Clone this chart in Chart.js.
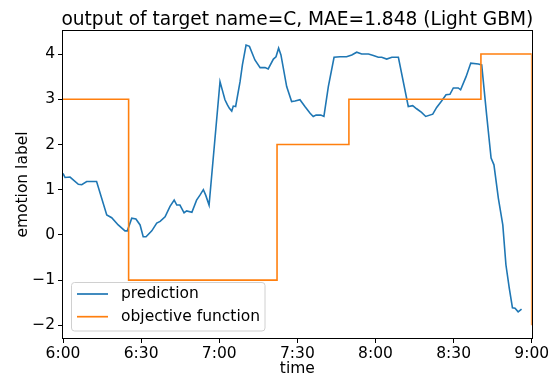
<!DOCTYPE html>
<html>
<head>
<meta charset="utf-8">
<script src="https://cdn.jsdelivr.net/npm/chart.js@4"></script>
<style>
  html, body { margin: 0; padding: 0; background: #fff; }
  #wrap { width: 557px; height: 376px; }
</style>
</head>
<body>
<div id="wrap"><canvas id="chart" width="557" height="376"></canvas></div>
<script>
// minutes after 6:00 and the predicted emotion label
const predMinutes = [0, 0.8, 2.7, 5.9, 7.2, 9.1, 12.9, 16.8, 18.7, 21.2, 23.8, 24.7, 26.4, 28, 29.6, 30.8, 31.9,
  34.1, 36, 37.3, 39.2, 41.1, 42.7, 43.7, 44.9, 46.5, 47.5, 49.5, 51.3, 52.6, 53.9, 54.8, 56.1,
  60.3, 62.2, 63.1, 63.9, 64.8, 65.4, 66.3, 68, 68.9, 70.3, 71.6, 73.7, 75.7, 77.6, 78.8, 80.8, 81.8,
  82.8, 83.7, 85.9, 87.8, 89.1, 91, 92.9, 94.9, 96.1, 97.2, 99, 100.2, 101.9, 104.1, 106.4, 108.9,
  110.9, 112.8, 114.7, 117.3, 119.2, 121.1, 122.4, 124.3, 126.3, 128.8, 132.6, 134.3, 135.8, 137.7,
  139.3, 142, 143.5, 145.4, 147.1, 148.6, 149.9, 151.8, 152.7, 154.8, 156.6, 159.5, 160.8, 162.7,
  164.4, 165.5, 167.2, 168.9, 170.1, 171.4, 172.6, 173.6, 174.8, 176.1];
const predValues = [1.36, 1.27, 1.28, 1.12, 1.11, 1.18, 1.18, 0.44, 0.38, 0.22, 0.09, 0.09, 0.37, 0.35, 0.22, -0.04, -0.04,
  0.09, 0.26, 0.30, 0.40, 0.63, 0.77, 0.66, 0.66, 0.49, 0.53, 0.50, 0.77, 0.88, 1.0, 0.88, 0.66,
  3.39, 2.99, 2.88, 2.80, 2.74, 2.85, 2.84, 3.39, 3.76, 4.20, 4.17, 3.87, 3.70, 3.70, 3.67, 3.89, 3.94,
  4.13, 3.98, 3.28, 2.95, 2.96, 2.99, 2.84, 2.69, 2.62, 2.65, 2.65, 2.62, 3.28, 3.93, 3.94, 3.94,
  3.98, 4.04, 4.00, 4.00, 3.97, 3.93, 3.93, 3.89, 3.93, 3.93, 2.84, 2.86, 2.79, 2.71,
  2.62, 2.67, 2.82, 2.96, 3.10, 3.11, 3.25, 3.25, 3.21, 3.50, 3.80, 3.78, 3.76, 2.65,
  1.70, 1.55, 0.81, 0.22, -0.66, -1.18, -1.61, -1.62, -1.70, -1.64];

// objective function: level changes (step before)
const objMinutes = [0, 25.2, 82.2, 109.8, 160.5, 180];
const objValues = [3, -1, 2, 3, 4, -2];

const xTickMinutes = [0, 30, 60, 90, 120, 150, 180];
const xTickLabels = ['6:00', '6:30', '7:00', '7:30', '8:00', '8:30', '9:00'];
const yTicks = [-2, -1, 0, 1, 2, 3, 4];

const chartTitle = 'output of target name=C, MAE=1.848 (Light GBM)';
const xTitle = 'time';
const yTitle = 'emotion label';
const seriesNames = ['prediction', 'objective function'];
const seriesColors = ['#1f77b4', '#ff7f0e'];

const FONT = 'DejaVu Sans';

const frame = {
  id: 'frame',
  afterDraw(chart) {
    const ctx = chart.ctx, a = chart.chartArea;
    ctx.save();
    // spines
    ctx.strokeStyle = '#000';
    ctx.lineWidth = 1;
    ctx.strokeRect(Math.round(a.left) - 0.5, Math.round(a.top) - 0.5,
      Math.round(a.right - a.left) + 1, Math.round(a.bottom - a.top) + 1);
    // title + axis titles
    ctx.fillStyle = '#000';
    ctx.textAlign = 'center';
    ctx.textBaseline = 'alphabetic';
    ctx.font = '18.6px "' + FONT + '"';
    ctx.fillText(chartTitle, (a.left + a.right) / 2, 25);
    ctx.font = '15.5px "' + FONT + '"';
    ctx.textBaseline = 'middle';
    ctx.fillText(xTitle, (a.left + a.right) / 2, 369);
    ctx.save();
    ctx.translate(23, (a.top + a.bottom) / 2);
    ctx.rotate(-Math.PI / 2);
    ctx.fillText(yTitle, 0, 0);
    ctx.restore();
    // legend
    const lx = 71.5, ly = 282.5, lw = 193.5, lh = 48.5;
    ctx.beginPath();
    ctx.roundRect(lx, ly, lw, lh, 3);
    ctx.fillStyle = 'rgba(255,255,255,0.8)';
    ctx.fill();
    ctx.strokeStyle = '#d0d0d0';
    ctx.stroke();
    ctx.textAlign = 'left';
    seriesNames.forEach((name, i) => {
      const y = 294 + i * 22.7;
      ctx.beginPath();
      ctx.moveTo(77, y);
      ctx.lineTo(108, y);
      ctx.strokeStyle = seriesColors[i];
      ctx.lineWidth = 1.7;
      ctx.stroke();
      ctx.fillStyle = '#000';
      ctx.fillText(name, 121, y);
    });
    ctx.restore();
  }
};

new Chart(document.getElementById('chart'), {
  type: 'line',
  data: {
    datasets: [{
      label: seriesNames[0],
      data: predMinutes.map((m, i) => ({x: m, y: predValues[i]})),
      borderColor: seriesColors[0],
      borderWidth: 1.6,
      pointRadius: 0,
      tension: 0,
      order: 2
    }, {
      label: seriesNames[1],
      data: objMinutes.map((m, i) => ({x: m, y: objValues[i]})),
      borderColor: seriesColors[1],
      borderWidth: 1.6,
      pointRadius: 0,
      stepped: 'before',
      order: 1
    }]
  },
  options: {
    responsive: false,
    animation: false,
    devicePixelRatio: 1,
    layout: {padding: {left: 0, top: 31, right: 25.3, bottom: 0}},
    plugins: {legend: {display: false}, tooltip: {enabled: false}, title: {display: false}},
    scales: {
      x: {
        type: 'linear',
        min: 0, max: 180,
        afterFit: s => { s.height = 38; },
        afterBuildTicks: s => { s.ticks = xTickMinutes.map(v => ({value: v})); },
        grid: {drawOnChartArea: false, tickLength: 5, tickColor: '#000'},
        border: {display: false},
        ticks: {
          color: '#000', padding: 2, maxRotation: 0, autoSkip: false,
          font: {family: FONT, size: 15.5},
          callback: (v, i) => xTickLabels[i]
        }
      },
      y: {
        type: 'linear',
        min: -2.28, max: 4.51,
        afterFit: s => { s.width = 63; },
        afterBuildTicks: s => { s.ticks = yTicks.map(v => ({value: v})); },
        grid: {drawOnChartArea: false, tickLength: 5, tickColor: '#000'},
        border: {display: false},
        ticks: {
          color: '#000', padding: 3, autoSkip: false,
          font: {family: FONT, size: 15.5},
          callback: v => (v < 0 ? '\u2212' + Math.abs(v) : String(v))
        }
      }
    }
  },
  plugins: [frame]
});
</script>
</body>
</html>
